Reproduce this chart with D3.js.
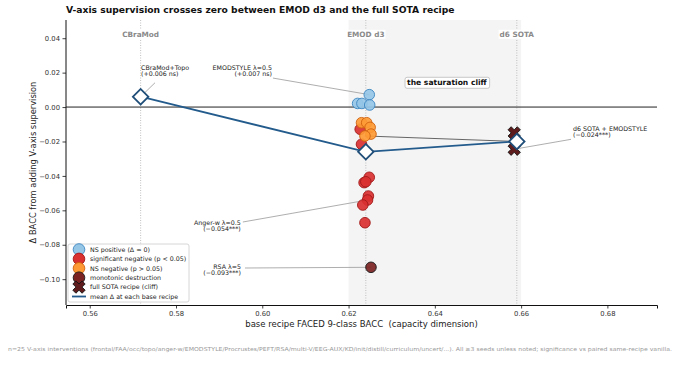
<!DOCTYPE html>
<html>
<head>
<meta charset="utf-8">
<script src="https://cdn.jsdelivr.net/npm/d3@7"></script>
<style>
  body { margin: 0; background: #fff; }
  svg { display: block; font-family: "DejaVu Sans", sans-serif; }
</style>
</head>
<body>
<svg id="chart" width="678" height="373"></svg>
<script>
// base recipes (x = base FACED BACC)
const baseNames = ["CBraMod", "EMOD d3", "d6 SOTA"]
const baseX = [0.5718, 0.6240, 0.6590]
const meanDelta = [0.006, -0.026, -0.020]

// interventions at EMOD d3: [bacc, delta]
const nsPositive = [[0.6248, 0.0072], [0.6221, 0.0021], [0.6231, 0.0021], [0.6249, 0.0012]]
const nsNegative = [[0.6230, -0.0091], [0.6242, -0.0091], [0.6250, -0.0118], [0.6252, -0.0157], [0.6238, -0.0168]]
const sigNegative = [[0.6227, -0.0129], [0.6230, -0.0216], [0.6248, -0.0408], [0.6236, -0.0439], [0.6240, -0.0434],
  [0.6246, -0.0517], [0.6244, -0.0540], [0.6233, -0.0569], [0.6238, -0.0672]]
const monotonic = [[0.6252, -0.0931]]
const sotaCliff = [[0.6584, -0.0150], [0.6584, -0.0245]]

const xTicks = [0.56, 0.58, 0.60, 0.62, 0.64, 0.66, 0.68]
const yTicks = [0.04, 0.02, 0.00, -0.02, -0.04, -0.06, -0.08, -0.10]

const annotations = [
  { lines: ["CBraMod+Topo", "(+0.006 ns)"], at: [0.5718, 0.006], dx: 0.4, dy: -27, anchor: "start", lx: 14.4, ly: -14 },
  { lines: ["EMODSTYLE \u03bb=0.5", "(+0.007 ns)"], at: nsPositive[0], dx: -97.3, dy: -24.6, anchor: "end", lx: -96.3, ly: -16.6 },
  { lines: ["Anger-w \u03bb=0.5", "(\u22120.054***)"], at: sigNegative[6], dx: -126.7, dy: 25.3, anchor: "end", lx: -124.7, ly: 22 },
  { lines: ["RSA \u03bb=5", "(\u22120.093***)"], at: monotonic[0], dx: -130, dy: 1.4, anchor: "end", lx: -126, ly: 0.7 },
  { lines: ["d6 SOTA + EMODSTYLE", "(\u22120.024***)"], at: sotaCliff[1], dx: 58.8, dy: -17.9, anchor: "start", lx: 56.8, ly: -9.9 }
]

const width = 678
const height = 373
const margins = { top: 21, right: 21, bottom: 68, left: 66 }

const svg = d3.select("#chart")

const x = d3.scaleLinear().domain([0.5545, 0.6915]).range([margins.left, width - margins.right])
const y = d3.scaleLinear().domain([-0.115, 0.05]).range([height - margins.bottom, margins.top])
const plotTop = margins.top - 1
const plotBottom = height - margins.bottom

//* title
svg.append("text")
  .attr("x", margins.left).attr("y", 13)
  .attr("font-size", "9.2px").attr("font-weight", "bold").attr("fill", "#111")
  .text("V-axis supervision crosses zero between EMOD d3 and the full SOTA recipe")

//* saturation cliff shading
svg.append("rect")
  .attr("x", x(0.62)).attr("y", plotTop)
  .attr("width", x(0.66) - x(0.62)).attr("height", plotBottom - plotTop)
  .attr("fill", "#f4f4f4")

//* base recipe guide lines
baseX.forEach((bx, i) => {
  svg.append("line")
    .attr("x1", x(bx)).attr("x2", x(bx)).attr("y1", plotTop).attr("y2", plotBottom)
    .attr("stroke", "#b0b0b0").attr("stroke-width", 0.8).attr("stroke-dasharray", "1,1.5")
  const lab = svg.append("text")
    .attr("x", x(bx)).attr("y", 36.8)
    .attr("text-anchor", "middle").attr("font-size", "7.3px").attr("font-weight", "bold")
    .attr("fill", "#8a8a8a").text(baseNames[i])
  const bb = lab.node().getBBox()
  svg.insert("rect", () => lab.node())
    .attr("x", bb.x - 1).attr("y", bb.y).attr("width", bb.width + 2).attr("height", bb.height)
    .attr("fill", "#fff")
})

//* zero line
svg.append("line")
  .attr("x1", x.range()[0]).attr("x2", x.range()[1]).attr("y1", y(0)).attr("y2", y(0))
  .attr("stroke", "#222").attr("stroke-width", 1)

//* axes
const yAxis = svg.append("g")
  .attr("transform", `translate(${margins.left},0)`)
  .call(d3.axisLeft(y).tickValues(yTicks).tickSize(3.5).tickPadding(2.5)
    .tickFormat(d => (d < 0 ? "\u2212" : "") + Math.abs(d).toFixed(2)))
const xAxis = svg.append("g")
  .attr("transform", `translate(0,${plotBottom})`)
  .call(d3.axisBottom(x).tickValues(xTicks).tickSize(3.5).tickPadding(3).tickFormat(d3.format(".2f")))
yAxis.select(".domain").attr("d", `M0,${plotTop}V${plotBottom}`)
;[xAxis, yAxis].forEach(a => {
  a.select(".domain").attr("stroke", "#111").attr("stroke-width", 1)
  a.selectAll(".tick line").attr("stroke", "#111").attr("stroke-width", 0.8)
  a.selectAll(".tick text").attr("font-size", "6.8px").attr("fill", "#333").attr("font-family", "DejaVu Sans")
})

svg.append("text")
  .attr("x", (x.range()[0] + x.range()[1]) / 2).attr("y", 327)
  .attr("text-anchor", "middle").attr("font-size", "8.5px").attr("fill", "#222")
  .style("white-space", "pre")
  .text("base recipe FACED 9-class BACC  (capacity dimension)")
svg.append("text")
  .attr("transform", `translate(36,${(plotTop + plotBottom) / 2}) rotate(-90)`)
  .attr("text-anchor", "middle").attr("font-size", "8.3px").attr("fill", "#222")
  .text("\u0394 BACC from adding V-axis supervision")

//* annotation leader lines
annotations.forEach(a => {
  const px = x(a.at[0]), py = y(a.at[1])
  svg.append("line")
    .attr("x1", px + a.lx).attr("y1", py + a.ly).attr("x2", px).attr("y2", py)
    .attr("stroke", "#999").attr("stroke-width", 0.8)
})
// EMODSTYLE link from EMOD d3 cluster to the d6 SOTA recipe
svg.append("line")
  .attr("x1", x(nsNegative[4][0])).attr("y1", y(nsNegative[4][1]))
  .attr("x2", x(baseX[2])).attr("y2", y(meanDelta[2]))
  .attr("stroke", "#555").attr("stroke-width", 0.9)

//* intervention points
const groups = [
  { data: nsPositive, fill: "#95c6e6", stroke: "#3b86c2" },
  { data: nsNegative, fill: "#fd9a35", stroke: "#d0620f" },
  { data: sigNegative, fill: "#d93030", stroke: "#a11818" },
  { data: monotonic, fill: "#7b2222", stroke: "#1a1a1a" }
]
// draw sig negative first so orange sits on top of the red in the cluster
;[groups[2], groups[0], groups[1], groups[3]].forEach(g => {
  svg.selectAll(null)
    .data(g.data)
    .join("circle")
    .attr("cx", d => x(d[0])).attr("cy", d => y(d[1]))
    .attr("r", 5.3)
    .attr("fill", g.fill).attr("fill-opacity", 0.92)
    .attr("stroke", g.stroke).attr("stroke-width", 0.9)
})

const xMarker = d3.symbol().type(d3.symbolCross).size(95)
svg.selectAll(".cliff")
  .data(sotaCliff)
  .join("path")
  .attr("class", "cliff")
  .attr("d", xMarker)
  .attr("transform", d => `translate(${x(d[0])},${y(d[1])}) rotate(45)`)
  .attr("fill", "#5e1c1c").attr("stroke", "#111").attr("stroke-width", 0.8)

//* mean line + diamonds
const meanPts = baseX.map((bx, i) => [bx, meanDelta[i]])
svg.append("path")
  .datum(meanPts)
  .attr("d", d3.line().x(d => x(d[0])).y(d => y(d[1])))
  .attr("fill", "none").attr("stroke", "#235b8c").attr("stroke-width", 1.8)
svg.selectAll(".mean")
  .data(meanPts)
  .join("path")
  .attr("class", "mean")
  .attr("d", d3.symbol().type(d3.symbolSquare).size(120))
  .attr("transform", d => `translate(${x(d[0])},${y(d[1])}) rotate(45)`)
  .attr("fill", "#fff").attr("stroke", "#1f4e79").attr("stroke-width", 1.8)

//* annotation texts
annotations.forEach(a => {
  const t = svg.append("text")
    .attr("x", x(a.at[0]) + a.dx).attr("y", y(a.at[1]) + a.dy)
    .attr("text-anchor", a.anchor).attr("font-size", "6.3px").attr("fill", "#222")
  a.lines.forEach((l, i) => {
    t.append("tspan").attr("x", x(a.at[0]) + a.dx).attr("dy", i === 0 ? 0 : 5.8).text(l)
  })
})

//* cliff label box
const cliff = svg.append("text")
  .attr("x", x(0.6428)).attr("y", 85.3)
  .attr("text-anchor", "middle").attr("font-size", "7.6px").attr("font-weight", "bold").attr("fill", "#111")
  .text("the saturation cliff")
const cb = cliff.node().getBBox()
svg.insert("rect", () => cliff.node())
  .attr("x", cb.x - 2).attr("y", cb.y - 1).attr("width", cb.width + 4).attr("height", cb.height + 2)
  .attr("rx", 2).attr("fill", "#fff").attr("stroke", "#bbb").attr("stroke-width", 0.8)

//* legend
const legendItems = [
  { label: "NS positive (\u0394 \u2248 0)", type: "circle", fill: "#95c6e6", stroke: "#3b86c2" },
  { label: "significant negative (p < 0.05)", type: "circle", fill: "#d93030", stroke: "#a11818" },
  { label: "NS negative (p > 0.05)", type: "circle", fill: "#fd9a35", stroke: "#d0620f" },
  { label: "monotonic destruction", type: "circle", fill: "#7b2222", stroke: "#1a1a1a" },
  { label: "full SOTA recipe (cliff)", type: "cross", fill: "#5e1c1c", stroke: "#111" },
  { label: "mean \u0394 at each base recipe", type: "line", stroke: "#235b8c" }
]
const legend = svg.append("g").attr("transform", "translate(68,244)")
legend.append("rect")
  .attr("width", 121).attr("height", 58).attr("rx", 2)
  .attr("fill", "#fff").attr("fill-opacity", 0.85).attr("stroke", "#ccc").attr("stroke-width", 0.8)
legendItems.forEach((it, i) => {
  const ly = 5.5 + i * 9.4
  const g = legend.append("g").attr("transform", `translate(11,${ly})`)
  if (it.type === "circle") {
    g.append("circle").attr("r", 5.8).attr("fill", it.fill).attr("stroke", it.stroke).attr("stroke-width", 0.9)
  } else if (it.type === "cross") {
    g.append("path").attr("d", xMarker).attr("transform", "rotate(45)")
      .attr("fill", it.fill).attr("stroke", it.stroke).attr("stroke-width", 0.8)
  } else {
    g.append("line").attr("x1", -7).attr("x2", 7).attr("stroke", it.stroke).attr("stroke-width", 1.8)
  }
  legend.append("text")
    .attr("x", 22).attr("y", ly + 2.2)
    .attr("font-size", "6.3px").attr("fill", "#222")
    .text(it.label)
})

//* footer note
svg.append("text")
  .attr("x", 8).attr("y", 351)
  .attr("font-size", "5.4px").attr("fill", "#999")
  .attr("textLength", 664).attr("lengthAdjust", "spacingAndGlyphs")
  .text("n=25 V-axis interventions (frontal/FAA/occ/topo/anger-w/EMODSTYLE/Procrustes/PEFT/RSA/multi-V/EEG-AUX/KD/init/distill/curriculum/uncert/...). All \u22653 seeds unless noted; significance vs paired same-recipe vanilla.")
</script>
</body>
</html>
